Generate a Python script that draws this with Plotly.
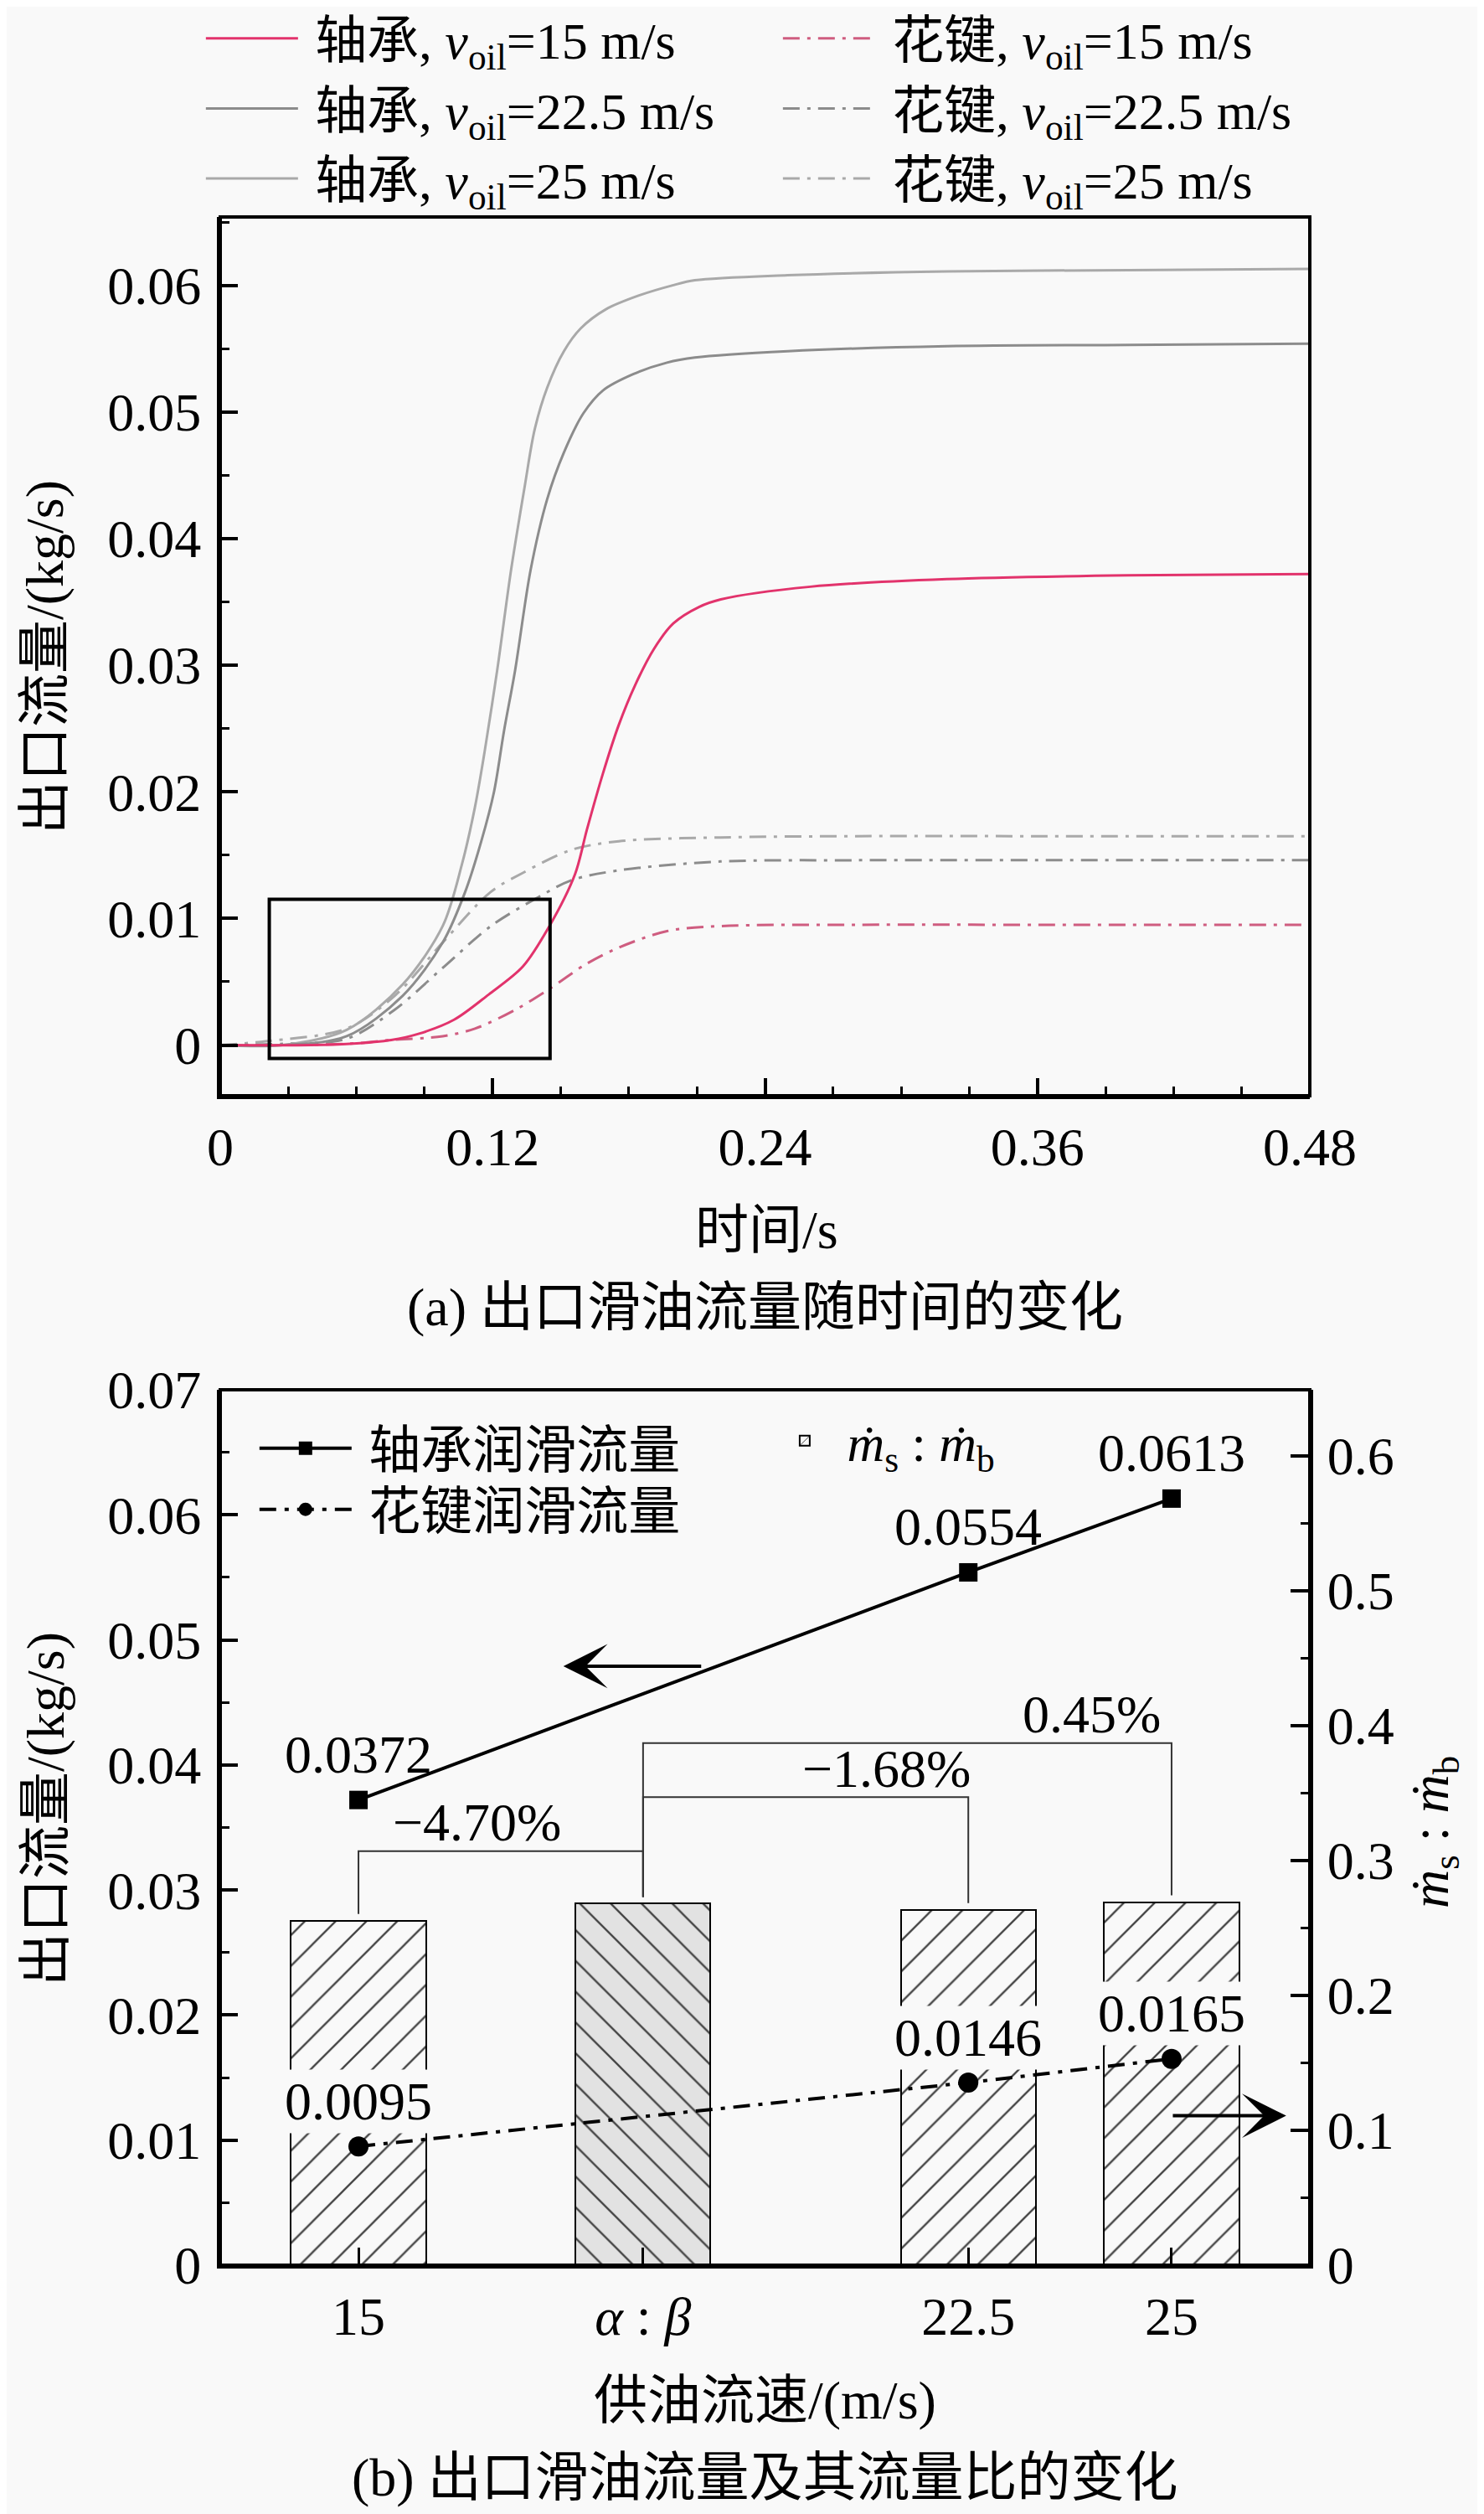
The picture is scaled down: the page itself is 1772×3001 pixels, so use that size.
import plotly.graph_objects as go

FONT = "Liberation Serif, Noto Sans CJK SC, serif"
BG = "#f9f9f9"
FS = 64
W, H = 1772, 3001
OFF = 8  # page body offset in px


def px_x(p):
    return (p - OFF) / W


def px_y(p):
    return 1 - (p - OFF) / H


# ---------------- (a) outlet flow vs time ----------------
t_b15 = [0, 0.04, 0.0571, 0.0753, 0.0876, 0.1030, 0.1183, 0.1333, 0.1447, 0.1563, 0.1615, 0.1685, 0.1756,
         0.1827, 0.1911, 0.1996, 0.2109, 0.2205, 0.26, 0.32, 0.40, 0.48]
v_b15 = [0, 0, 0.0001, 0.0004, 0.0009, 0.0020, 0.0040, 0.0062, 0.0093, 0.0135, 0.0170, 0.0214, 0.0253,
         0.0284, 0.0313, 0.0333, 0.0346, 0.0352, 0.0362, 0.0368, 0.0371, 0.0372]

t_b22 = [0, 0.0275, 0.0557, 0.0804, 0.098, 0.1079, 0.115, 0.1206, 0.1250, 0.1299, 0.1367, 0.1440, 0.1514,
         0.1600, 0.1686, 0.1821, 0.1968, 0.2091, 0.25, 0.32, 0.40, 0.48]
v_b22 = [0, 0, 0.0007, 0.0039, 0.0081, 0.0121, 0.0161, 0.0200, 0.0248, 0.0296, 0.0375, 0.0431, 0.0468,
         0.0499, 0.0517, 0.0530, 0.0539, 0.0543, 0.0548, 0.0552, 0.0553, 0.0554]

t_b25 = [0, 0.0275, 0.0557, 0.0804, 0.098, 0.1065, 0.1121, 0.1164, 0.1220, 0.1281, 0.1342, 0.1385, 0.1440,
         0.1514, 0.1588, 0.1698, 0.1845, 0.1993, 0.2091, 0.25, 0.32, 0.40, 0.48]
v_b25 = [0, 0, 0.0012, 0.0048, 0.0094, 0.0143, 0.0187, 0.0231, 0.0296, 0.0375, 0.0442, 0.0486, 0.0519,
         0.0548, 0.0566, 0.0581, 0.0592, 0.0600, 0.0604, 0.0608, 0.0611, 0.0612, 0.0613]

t_s15 = [0, 0.0557, 0.0753, 0.098, 0.1122, 0.1301, 0.1447, 0.1612, 0.1756, 0.1968, 0.2205, 0.28, 0.36, 0.48]
v_s15 = [0, 0.0001, 0.0004, 0.0007, 0.0013, 0.0028, 0.0044, 0.0064, 0.0077, 0.0090, 0.0094, 0.0095, 0.0095, 0.0095]

t_s22 = [0, 0.0275, 0.0557, 0.0769, 0.098, 0.1192, 0.1403, 0.1544, 0.1756, 0.2205, 0.28, 0.36, 0.48]
v_s22 = [0, 0.0001, 0.0005, 0.0028, 0.0061, 0.0094, 0.0117, 0.0130, 0.0138, 0.0145, 0.0146, 0.0146, 0.0146]

t_s25 = [0, 0.02, 0.0557, 0.0769, 0.098, 0.1192, 0.1333, 0.1544, 0.1756, 0.2205, 0.28, 0.36, 0.48]
v_s25 = [0, 0.0003, 0.0013, 0.0039, 0.0081, 0.0121, 0.0136, 0.0154, 0.0161, 0.0164, 0.0165, 0.0165, 0.0165]

a_xticks = [0, 0.12, 0.24, 0.36, 0.48]
a_xticktext = ["0", "0.12", "0.24", "0.36", "0.48"]
a_yticks = [0, 0.01, 0.02, 0.03, 0.04, 0.05, 0.06]
a_yticktext = ["0", "0.01", "0.02", "0.03", "0.04", "0.05", "0.06"]
zoom_box_x = [0.0216, 0.1453]
zoom_box_y = [-0.00106, 0.01152]

# ---------------- (b) outlet flow and flow ratio ----------------
cat_x = [15, 18.5, 22.5, 25]
cat_text = ["15", "<i>α</i> : <i>β</i>", "22.5", "25"]
ratio = [0.2554, 0.2680, 0.2635, 0.2692]
flow_x = [15, 22.5, 25]
flow_bearing = [0.0372, 0.0554, 0.0613]
flow_spline = [0.0095, 0.0146, 0.0165]
flow_bearing_txt = ["0.0372", "0.0554", "0.0613"]
flow_spline_txt = ["0.0095", "0.0146", "0.0165"]
b_lyticks = [0, 0.01, 0.02, 0.03, 0.04, 0.05, 0.06, 0.07]
b_lyticktext = ["0", "0.01", "0.02", "0.03", "0.04", "0.05", "0.06", "0.07"]
b_ryticks = [0, 0.1, 0.2, 0.3, 0.4, 0.5, 0.6]
b_ryticktext = ["0", "0.1", "0.2", "0.3", "0.4", "0.5", "0.6"]
ref_x = 18.5
ref_ratio = 0.2680
bracket_x = [15, 22.5, 25]
bracket_level = [0.307, 0.347, 0.387]
bracket_txt = ["−4.70%", "−1.68%", "0.45%"]
bracket_txt_x = [16.46, 21.49, 24.02]

PINK = "#e2336c"
G1 = "#8c8c8c"
G2 = "#a9a9a9"
DASHDOT = "20px,9px,4px,9px"
NB = "\u00a0"

fig = go.Figure()

sub = "<i>v</i><sub>oil</sub>"
traces_a = [
    (t_s25, v_s25, G2, DASHDOT, f"{NB}花键, {sub}=25 m/s", 6),
    (t_s22, v_s22, G1, DASHDOT, f"{NB}花键, {sub}=22.5 m/s", 4),
    (t_s15, v_s15, "#cf5d80", DASHDOT, f"{NB}花键, {sub}=15 m/s", 2),
    (t_b25, v_b25, G2, "solid", f"{NB}轴承, {sub}=25 m/s", 5),
    (t_b22, v_b22, G1, "solid", f"{NB}轴承, {sub}=22.5 m/s", 3),
    (t_b15, v_b15, PINK, "solid", f"{NB}轴承, {sub}=15 m/s", 1),
]
for tx, vy, col, dash, nm, rk in traces_a:
    fig.add_trace(go.Scatter(
        x=tx, y=vy, mode="lines", name=nm, legendrank=rk, legend="legend",
        line=dict(color=col, width=3, dash=dash, shape="spline", smoothing=0.9),
        xaxis="x", yaxis="y"))

# bars (ratio) on right axis y2
bar_bg = [BG, "#e2e2e2", BG, BG]
fig.add_trace(go.Bar(
    x=cat_x, y=ratio, width=1.66, name=f"{NB}<i>ṁ</i><sub>s</sub> : <i>ṁ</i><sub>b</sub>",
    legend="legend3", xaxis="x2", yaxis="y2",
    marker=dict(color=bar_bg, line=dict(color="black", width=2),
                pattern=dict(shape=["/", "\\", "/", "/"], size=26, solidity=0.09,
                             fillmode="overlay", fgcolor="black", fgopacity=1))))

# lines on left axis y3 (overlay so they are drawn above bars)
fig.add_trace(go.Scatter(
    x=flow_x, y=flow_bearing, mode="lines+markers", name=f"{NB}轴承润滑流量", legend="legend2",
    line=dict(color="black", width=4), marker=dict(symbol="square", size=22, color="black"),
    xaxis="x2", yaxis="y3"))
fig.add_trace(go.Scatter(
    x=flow_x, y=flow_spline, mode="lines+markers", name=f"{NB}花键润滑流量", legend="legend4",
    line=dict(color="black", width=4, dash="20px,10px,5px,10px"),
    marker=dict(symbol="circle", size=24, color="black"),
    xaxis="x2", yaxis="y3"))

axis_common = dict(showgrid=False, zeroline=False, showline=True, linecolor="black", linewidth=4,
                   ticks="inside", tickcolor="black", tickwidth=4, ticklen=21, automargin=False,
                   mirror=False, tickfont=dict(family=FONT, size=FS, color="black"))
minor_common = dict(ticks="inside", ticklen=11, tickwidth=3, tick0=0, tickcolor="black", showgrid=False)

DOMX = [px_x(263), px_x(1564)]
LEG = dict(bgcolor="rgba(0,0,0,0)", font=dict(family=FONT, size=FS - 2), tracegroupgap=0)
fig.update_layout(
    template="none",
    width=W, height=H, margin=dict(l=0, r=0, t=0, b=0, autoexpand=False),
    paper_bgcolor=BG, plot_bgcolor=BG, font=dict(family=FONT, size=FS, color="black"),
    showlegend=True,
    xaxis=dict(domain=DOMX, anchor="y", range=[0, 0.48], tickmode="array", tickvals=a_xticks,
               ticktext=a_xticktext, ticklabelstandoff=2,
               minor=dict(dtick=0.03, **minor_common), **axis_common),
    yaxis=dict(domain=[px_y(1308), px_y(259)], anchor="x", range=[-0.0040, 0.0654], tickmode="array",
               tickvals=a_yticks, ticktext=a_yticktext, ticklabelstandoff=6,
               minor=dict(dtick=0.005, **minor_common), **axis_common),
    xaxis2=dict(domain=DOMX, anchor="y2", range=[13.3, 26.7], tickmode="array", tickvals=cat_x,
                ticktext=cat_text, ticklabelstandoff=2, **{**axis_common, "tickwidth": 3}),
    yaxis2=dict(domain=[px_y(2704), px_y(1659)], anchor="x2", side="right", range=[0, 0.649],
                tickmode="array", tickvals=b_ryticks, ticktext=b_ryticktext, ticklabelstandoff=4,
                minor=dict(dtick=0.05, **minor_common), **{**axis_common, "ticklen": 23}),
    yaxis3=dict(overlaying="y2", anchor="x2", side="left", range=[0, 0.07], tickmode="array",
                tickvals=b_lyticks, ticktext=b_lyticktext, ticklabelstandoff=6,
                minor=dict(dtick=0.005, **minor_common), **axis_common),
    legend=dict(orientation="h", x=0.1314, y=1.003, xanchor="left", yanchor="top",
                itemwidth=110, entrywidth=564, traceorder="normal", **LEG),
    legend2=dict(orientation="v", x=0.1675, y=0.4422, xanchor="left", yanchor="top",
                 itemwidth=110, **LEG),
    legend4=dict(orientation="v", x=0.1675, y=0.4179, xanchor="left", yanchor="top",
                 itemwidth=110, **LEG),
    legend3=dict(orientation="v", x=0.518, y=0.4452, xanchor="left", yanchor="top",
                 itemwidth=60, **LEG),
    bargap=0,
)

shapes = []
# plot frames
shapes.append(dict(type="rect", xref="x domain", yref="y domain", x0=0, x1=1, y0=0, y1=1,
                   line=dict(color="black", width=4)))
shapes.append(dict(type="rect", xref="x2 domain", yref="y2 domain", x0=0, x1=1, y0=0, y1=1,
                   line=dict(color="black", width=4)))
# zoom box in (a)
shapes.append(dict(type="rect", xref="x", yref="y", x0=zoom_box_x[0], x1=zoom_box_x[1],
                   y0=zoom_box_y[0], y1=zoom_box_y[1], line=dict(color="black", width=4)))
# brackets in (b)
gap = 0.005
for bx, lvl in zip(bracket_x, bracket_level):
    i = cat_x.index(bx)
    path = (f"M {bx},{ratio[i] + gap} L {bx},{lvl} L {ref_x},{lvl} L {ref_x},{ref_ratio + gap}")
    shapes.append(dict(type="path", xref="x2", yref="y2", path=path,
                       line=dict(color="#333333", width=2)))
fig.update_layout(shapes=shapes)

C = dict(xanchor="center", yanchor="middle", showarrow=False)
ann = []
for bx, bt, lvl in zip(bracket_txt_x, bracket_txt, bracket_level):
    ann.append(dict(x=bx, y=lvl, xref="x2", yref="y2", text=bt, yshift=34, font=dict(size=FS), **C))
for xv, yv, tx in zip(flow_x, flow_bearing, flow_bearing_txt):
    ann.append(dict(x=xv, y=yv, xref="x2", yref="y3", text=tx, yshift=54, font=dict(size=FS), **C))
for xv, yv, tx in zip(flow_x, flow_spline, flow_spline_txt):
    ann.append(dict(x=xv, y=yv, xref="x2", yref="y3", text=tx, yshift=54, font=dict(size=FS),
                    bgcolor=BG, borderpad=2, **C))
# axis arrows
ann.append(dict(x=17.52, y=0.0479, ax=19.23, ay=0.0479, xref="x2", yref="y3", axref="x2", ayref="y3",
                text="", showarrow=True, arrowhead=3, arrowwidth=4, arrowsize=2.2, arrowcolor="black"))
ann.append(dict(x=26.41, y=0.1108, ax=25.0, ay=0.1108, xref="x2", yref="y2", axref="x2", ayref="y2",
                text="", showarrow=True, arrowhead=3, arrowwidth=4, arrowsize=2.2, arrowcolor="black"))
# titles
ann.append(dict(x=px_x(54), y=px_y(785), xref="paper", yref="paper", text="出口流量/(kg/s)",
                textangle=-90, font=dict(size=FS), **C))
ann.append(dict(x=px_x(915), y=px_y(1468), xref="paper", yref="paper", text="时间/s",
                font=dict(size=FS), **C))
ann.append(dict(x=px_x(913), y=px_y(1560), xref="paper", yref="paper", text="(a) 出口滑油流量随时间的变化",
                font=dict(size=FS), **C))
ann.append(dict(x=px_x(54), y=px_y(2160), xref="paper", yref="paper", text="出口流量/(kg/s)",
                textangle=-90, font=dict(size=FS), **C))
ann.append(dict(x=px_x(1712), y=px_y(2187), xref="paper", yref="paper",
                text="<i>ṁ</i><sub>s</sub> : <i>ṁ</i><sub>b</sub>", textangle=-90,
                font=dict(size=FS), **C))
ann.append(dict(x=px_x(913), y=px_y(2865), xref="paper", yref="paper", text="供油流速/(m/s)",
                font=dict(size=FS), **C))
ann.append(dict(x=px_x(913), y=px_y(2957), xref="paper", yref="paper", text="(b) 出口滑油流量及其流量比的变化",
                font=dict(size=FS), **C))
fig.update_layout(annotations=ann)

fig.write_html("out.html")
